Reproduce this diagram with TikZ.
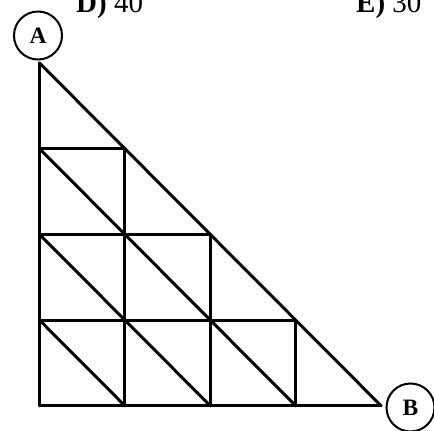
\documentclass[tikz,border=0pt]{standalone}
\usepackage{fontspec}
\setmainfont{Liberation Serif}
\begin{document}
\begin{tikzpicture}[x=1pt,y=-1pt,
  gridline/.style={line width=3pt,line cap=round,line join=round},
  endcircle/.style={circle,draw,line width=2pt,minimum size=48pt,inner sep=0pt,font=\fontsize{23.5}{28}\selectfont\bfseries},
  answer/.style={anchor=base west,inner sep=0pt,font=\fontsize{29}{34}\selectfont}]
\useasboundingbox (0,0) rectangle (434,431);
\foreach \i in {0,...,4}{
  \foreach \j in {0,...,4}{
    \coordinate (p-\i-\j) at ({39.5+85.4*\i},{63+85.7*\j});
  }
}
% verticals
\draw[gridline] (p-0-0) -- (p-0-4);
\draw[gridline] (p-1-1) -- (p-1-4);
\draw[gridline] (p-2-2) -- (p-2-4);
\draw[gridline] (p-3-3) -- (p-3-4);
% horizontals
\draw[gridline] (p-0-1) -- (p-1-1);
\draw[gridline] (p-0-2) -- (p-2-2);
\draw[gridline] (p-0-3) -- (p-3-3);
\draw[gridline] (p-0-4) -- (p-4-4);
% diagonals (top-left to bottom-right only)
\draw[gridline] (p-0-0) -- (p-4-4);
\draw[gridline] (p-0-1) -- (p-3-4);
\draw[gridline] (p-0-2) -- (p-2-4);
\draw[gridline] (p-0-3) -- (p-1-4);
% labels
\node[endcircle] (A) at (38,35.5) {A};
\node[endcircle] (B) at (410.5,407.5) {B};
\node[answer] (D) at (76,12.5) {\textbf{D)} 40};
\node[answer] (E) at (356,12.5) {\textbf{E)} 30};
\end{tikzpicture}
\end{document}
